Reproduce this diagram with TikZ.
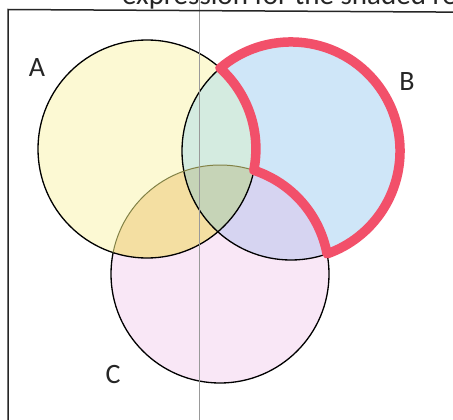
\documentclass[tikz,border=0pt]{standalone}
\usepackage{fontspec}
\newfontfamily\carl{Carlito}
\definecolor{colA}{HTML}{FCF9D3}
\definecolor{colB}{HTML}{CFE6F8}
\definecolor{colC}{HTML}{F9E7F6}
\definecolor{colAB}{HTML}{D4EBE0}
\definecolor{colAC}{HTML}{F4DFA2}
\definecolor{colBC}{HTML}{D6D4F1}
\definecolor{colABC}{HTML}{C6D4B7}
\definecolor{shadered}{HTML}{F2506A}
\tikzset{
  circline/.style={line width=1.3pt, black},
  lbl/.style={font=\carl\fontsize{28}{32}\selectfont, text=black!85},
  redborder/.style={line width=9.5pt, shadered, line join=round}
}
\begin{document}
\begin{tikzpicture}[x=1pt,y=1pt]
\useasboundingbox (0,0) rectangle (453,-420);
\clip (0,0) rectangle (453,-420);
\fill[white] (0,0) rectangle (453,-420);
\def\R{109}
\coordinate (A) at (147,-149);
\coordinate (B) at (291,-151);
\coordinate (C) at (220,-274);
% base fills
\fill[colA] (A) circle (\R);
\fill[colB] (B) circle (\R);
\fill[colC] (C) circle (\R);
\begin{scope}
  \clip (A) circle (\R);
  \fill[colAB] (B) circle (\R);
  \fill[colAC] (C) circle (\R);
\end{scope}
\begin{scope}
  \clip (B) circle (\R);
  \fill[colBC] (C) circle (\R);
  \clip (A) circle (\R);
  \fill[colABC] (C) circle (\R);
\end{scope}
% outlines
\draw[circline] (A) circle (\R);
\draw[circline] (B) circle (\R);
\begin{scope}[even odd rule]
  \clip (-10,10) rectangle (470,-440) (A) circle (\R);
  \begin{scope}[even odd rule]
    \clip (-10,10) rectangle (470,-440) (B) circle (\R);
    \draw[circline] (C) circle (\R);
  \end{scope}
\end{scope}
\begin{scope}
  \clip (A) circle (\R);
  \draw[line width=1pt, color={rgb,255:red,130;green,130;blue,70}] (C) circle (\R);
\end{scope}
\begin{scope}[even odd rule]
  \clip (-10,10) rectangle (470,-440) (A) circle (\R);
  \begin{scope}[nonzero rule]
    \clip (B) circle (\R);
    \draw[line width=1pt, color={rgb,255:red,60;green,80;blue,90}] (C) circle (\R);
  \end{scope}
\end{scope}
% shaded region border (B only)
\draw[redborder] (220.1,-68.2)
  arc[start angle=130.6, end angle=-70.7, radius=\R]
  arc[start angle=10.6, end angle=71.9, radius=\R]
  arc[start angle=-11.3, end angle=47.9, radius=\R] -- cycle;
% fold line
\draw[line width=0.9pt, black!40] (199,0) -- (199,-420);
% frame
\draw[line width=1.5pt, black!85] (470,-12.2) -- (8,-9.5) -- (8,-440);
% cut-off heading text
\node[anchor=base west, inner sep=0pt, font=\carl\fontsize{29}{32}\selectfont, text=black!85] (head) at (122,-4.5) {expression for the shaded region};
% labels
\node[lbl] (labA) at (37,-68) {A};
\node[lbl] (labB) at (407,-82) {B};
\node[lbl] (labC) at (113,-375) {C};
\end{tikzpicture}
\end{document}
